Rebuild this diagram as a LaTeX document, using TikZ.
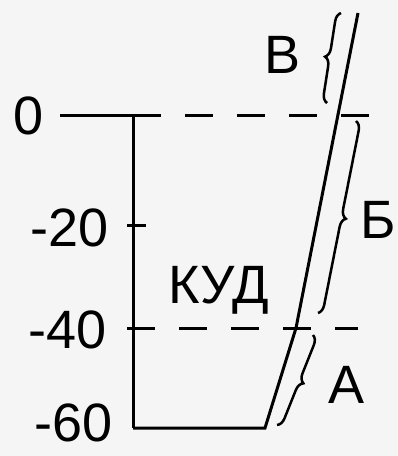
\documentclass[tikz,border=0pt]{standalone}
\usepackage{fontspec}
\setmainfont{Liberation Sans}
\usetikzlibrary{decorations.pathreplacing}
\definecolor{paper}{RGB}{245,245,245}

\begin{document}
\begin{tikzpicture}[x=1pt,y=-1pt,line width=3pt,
        lbl/.style={font=\fontsize{54}{54}\selectfont,inner sep=0pt},
        brc/.style={decorate,decoration={brace,amplitude=9pt},line width=2.5pt},
        lvl/.style={dash pattern=on 28pt off 24pt}]
        \fill[paper] (0,0) rectangle (398,456);
        \useasboundingbox (0,0) rectangle (398,456);
        % axis
        \coordinate (a0) at (133,115);
        \coordinate (a20) at (133,225);
        \coordinate (a40) at (133,328);
        \coordinate (a60) at (133,428);
        \node[lbl] (l0) at (29,116) {0};
        \node[lbl] (l20) at (70,228) {-20};
        \node[lbl] (l40) at (68,330) {-40};
        \node[lbl] (l60) at (74,423) {-60};
        \draw (60,115) -- (a0) -- (a60);
        \draw ([xshift=-6pt]a20) -- ([xshift=13pt]a20);
        % walls
        \coordinate (w0) at (265,428);
        \coordinate (w1) at (296,328);
        \coordinate (w2) at (358,13);
        \draw (a60) -- (w0) -- (w1) -- (w2);
        % levels
        \draw[lvl] (a0) -- (370,115);
        \draw[lvl] ([xshift=-6pt]a40) -- (358,328);
        \node[lbl] (kud) at (219,290) {КУД};
        % zones
        \draw[brc] (313,335) -- (277,425);
        \node[lbl] (za) at (347,385) {А};
        \draw[brc] (356,121) -- (318,313);
        \node[lbl] (zb) at (378,220) {Б};
        \draw[brc] (327,103) -- (341,13);
        \node[lbl] (zv) at (283,55) {В};
\end{tikzpicture}
\end{document}
